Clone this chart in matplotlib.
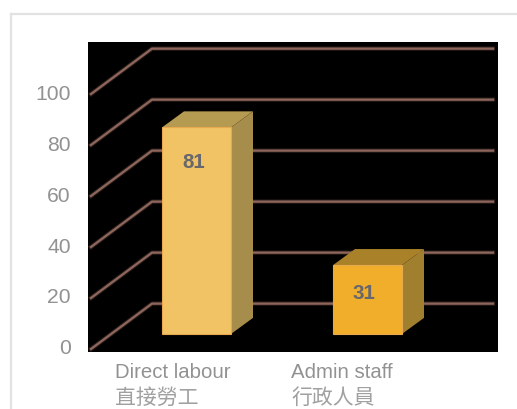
import matplotlib
matplotlib.use("Agg")
import matplotlib.pyplot as plt
from matplotlib.lines import Line2D
from matplotlib.patches import Polygon

plt.rcParams['font.family'] = ['Liberation Sans', 'Noto Sans CJK TC', 'DejaVu Sans']

# data
labels_en = ["Direct labour", "Admin staff"]
labels_zh = ["直接勞工", "行政人員"]
values = [81, 31]            # printed on the bars
bar_heights = [81, 27]       # drawn height against the axis
y_ticks = [0, 20, 40, 60, 80, 100]

front_colors = ["#f1c365", "#f0ae2b"]
top_colors = ["#b59a52", "#a98129"]
side_colors = ["#a68d4b", "#a0802f"]
grid_color = "#8d655b"
text_grey = "#929292"

fig = plt.figure(figsize=(5.17, 4.09), dpi=100)
ax = fig.add_axes([88 / 517, 57 / 409, 410 / 517, 310 / 409])
ax.set_facecolor("black")
ax.set_xlim(88, 498)
ax.set_ylim(-1.18, 120.4)
for s in ax.spines.values():
    s.set_visible(False)

# outer frame
frame = "#e2e2e2"
fig.add_artist(Line2D([11 / 517, 11 / 517], [0, 1 - 14 / 409], color=frame, lw=1.6))
fig.add_artist(Line2D([11 / 517, 1], [1 - 14 / 409, 1 - 14 / 409], color=frame, lw=1.6))

# the 3d look: how far the back wall and the bars are shifted
wall_dx, wall_dy = 61, 17.8
bar_dx, bar_dy = 22, 6.3
wall_x0, wall_x1 = 91, 493

for v in y_ticks:
    xs = [wall_x0, wall_x0 + wall_dx, wall_x1]
    ys = [v, v + wall_dy, v + wall_dy]
    ax.plot(xs, ys, color=grid_color, lw=3.2, alpha=0.25, zorder=1, solid_joinstyle="round")
    ax.plot(xs, ys, color=grid_color, lw=1.7, zorder=2, solid_joinstyle="round")

# bars
bar_left = [162, 333]
bar_width = 69
base = 5.9
label_drop = [13.6, 11]
label_x = [194, 364]
for i, h in enumerate(bar_heights):
    x0 = bar_left[i]
    x1 = x0 + bar_width
    top = base + h
    ax.bar(x0, h, width=bar_width, bottom=base, align="edge", color=front_colors[i], zorder=4,
           edgecolor="#e8a94e", linewidth=0.8)
    ax.add_patch(Polygon([(x0, top), (x1, top), (x1 + bar_dx, top + bar_dy), (x0 + bar_dx, top + bar_dy)],
                         closed=True, facecolor=top_colors[i], edgecolor="none", zorder=3))
    ax.add_patch(Polygon([(x1, base), (x1, top), (x1 + bar_dx, top + bar_dy), (x1 + bar_dx, base + bar_dy)],
                         closed=True, facecolor=side_colors[i], edgecolor="none", zorder=3))
    ax.text(label_x[i], top - label_drop[i], str(values[i]), color="#67676c", fontsize=14.8,
            fontweight="bold", ha="center", va="center", zorder=5)

# axes text
ax.set_yticks(y_ticks)
ax.set_yticklabels([str(v) for v in y_ticks], color=text_grey, fontsize=15.2)
ax.tick_params(axis="y", length=0, pad=12.5)
for t in ax.get_yticklabels():
    t.set_verticalalignment("center")
ax.set_xticks([])

trans = ax.get_xaxis_transform()
label_left = [115, 291]
for i in range(2):
    ax.text(label_left[i], -0.065, labels_en[i], transform=trans, color=text_grey, fontsize=14.7,
            ha="left", va="center", clip_on=False)
    ax.text(label_left[i], -0.148, labels_zh[i], transform=trans, color="#a0a0a0", fontsize=15,
            ha="left", va="center", clip_on=False)

fig.savefig("out.png", dpi=100)
